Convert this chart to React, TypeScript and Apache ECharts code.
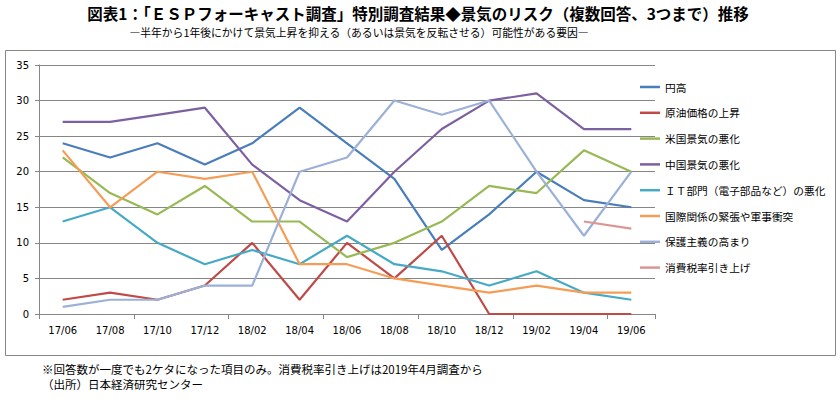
import React, { useEffect, useRef } from "react";
import * as echarts from "echarts";

const categories = ["17/06", "17/08", "17/10", "17/12", "18/02", "18/04", "18/06", "18/08", "18/10", "18/12", "19/02", "19/04", "19/06"];

const seriesNames = [
  "円高",
  "原油価格の上昇",
  "米国景気の悪化",
  "中国景気の悪化",
  "ＩＴ部門（電子部品など）の悪化",
  "国際関係の緊張や軍事衝突",
  "保護主義の高まり",
  "消費税率引き上げ",
];

const yenHigh = [24, 22, 24, 21, 24, 29, 24, 19, 9, 14, 20, 16, 15];
const oilRise = [2, 3, 2, 4, 10, 2, 10, 5, 11, 0, 0, 0, 0];
const usSlowdown = [22, 17, 14, 18, 13, 13, 8, 10, 13, 18, 17, 23, 20];
const chinaSlowdown = [27, 27, 28, 29, 21, 16, 13, 20, 26, 30, 31, 26, 26];
const itSlowdown = [13, 15, 10, 7, 9, 7, 11, 7, 6, 4, 6, 3, 2];
const geopolitics = [23, 15, 20, 19, 20, 7, 7, 5, 4, 3, 4, 3, 3];
const protectionism = [1, 2, 2, 4, 4, 20, 22, 30, 28, 30, 20, 11, 20];
const taxHike = [null, null, null, null, null, null, null, null, null, null, null, 13, 12];

const seriesValues = [yenHigh, oilRise, usSlowdown, chinaSlowdown, itSlowdown, geopolitics, protectionism, taxHike];
const seriesColors = ["#4A7EBB", "#BE4B48", "#98B954", "#7D60A0", "#46AAC5", "#F59D56", "#9BB1D7", "#DA9694"];

const yTicks = { min: 0, max: 35, interval: 5 };

const titleText = "図表1：「ＥＳＰフォーキャスト調査」特別調査結果◆景気のリスク（複数回答、3つまで）推移";
const subtitleText = "―半年から1年後にかけて景気上昇を抑える（あるいは景気を反転させる）可能性がある要因―";
const note1 = "※回答数が一度でも2ケタになった項目のみ。消費税率引き上げは2019年4月調査から";
const note2 = "（出所）日本経済研究センター";

const JP = "'Noto Sans CJK JP', 'Noto Sans', sans-serif";
const NUM = "'DejaVu Sans', Verdana, sans-serif";
const GRAY = "#868686";

export default function App() {
  const ref = useRef<HTMLDivElement>(null);
  useEffect(() => {
    if (!ref.current) return;
    const chart = echarts.init(ref.current, null, { renderer: "svg" });
    chart.setOption({
      animation: false,
      backgroundColor: "#ffffff",
      grid: { left: 39, top: 65, width: 616, height: 249, containLabel: false },
      legend: {
        orient: "vertical",
        left: 635,
        top: 75,
        icon: "rect",
        itemWidth: 20,
        itemHeight: 2.5,
        itemGap: 11.8,
        data: seriesNames,
        textStyle: { fontFamily: JP, fontSize: 10.7, color: "#000", lineHeight: 14 },
      },
      xAxis: {
        type: "category",
        data: categories,
        boundaryGap: true,
        axisLine: { show: true, lineStyle: { color: GRAY, width: 1 } },
        axisTick: { show: true, interval: 1, length: 5, lineStyle: { color: GRAY } },
        axisLabel: { interval: 0, fontFamily: NUM, fontSize: 10, color: "#000", margin: 11 },
        splitLine: { show: false },
      },
      yAxis: {
        type: "value",
        min: yTicks.min,
        max: yTicks.max,
        interval: yTicks.interval,
        axisLine: { show: true, lineStyle: { color: GRAY, width: 1 } },
        axisTick: { show: true, length: 4, lineStyle: { color: GRAY } },
        axisLabel: { fontFamily: NUM, fontSize: 10, color: "#000", margin: 10 },
        splitLine: { show: true, lineStyle: { color: GRAY, width: 1 } },
      },
      series: seriesNames.map((name, i) => ({
        name,
        type: "line",
        data: seriesValues[i],
        symbol: "none",
        connectNulls: false,
        color: seriesColors[i],
        lineStyle: { color: seriesColors[i], width: 2.2 },
        z: 3,
      })),
      graphic: [
        {
          type: "rect",
          shape: { x: 5.5, y: 50.5, width: 830, height: 305 },
          style: { fill: "none", stroke: GRAY, lineWidth: 1 },
          silent: true,
          z: 0,
        },
        {
          type: "text",
          x: 418,
          y: 13,
          style: {
            text: titleText,
            font: `bold 15.5px ${JP}`,
            fill: "#000",
            textAlign: "center",
            textVerticalAlign: "middle",
          },
        },
        {
          type: "text",
          x: 359,
          y: 32,
          style: {
            text: subtitleText,
            font: `10.8px ${JP}`,
            fill: "#000",
            textAlign: "center",
            textVerticalAlign: "middle",
          },
        },
        {
          type: "text",
          x: 42,
          y: 369,
          style: { text: note1, font: `11.5px ${JP}`, fill: "#000", textAlign: "left", textVerticalAlign: "middle" },
        },
        {
          type: "text",
          x: 42,
          y: 384,
          style: { text: note2, font: `11.5px ${JP}`, fill: "#000", textAlign: "left", textVerticalAlign: "middle" },
        },
      ],
    });
    return () => chart.dispose();
  }, []);
  return <div ref={ref} style={{ position: "fixed", left: 0, top: 0, width: 840, height: 399 }} />;
}
